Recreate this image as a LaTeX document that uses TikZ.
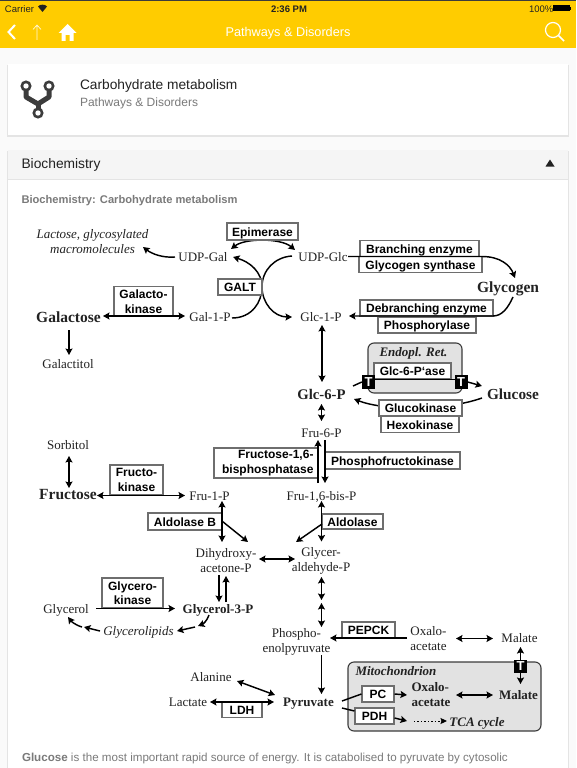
\documentclass[tikz,border=0pt]{standalone}
\usepackage{fontspec}
\setmainfont{Liberation Sans}
\newfontfamily\ser{Liberation Serif}
\usetikzlibrary{arrows.meta,calc}
\definecolor{barY}{HTML}{FFCC00}
\definecolor{pageBg}{HTML}{FAFAFA}
\definecolor{headBg}{HTML}{F5F5F5}
\definecolor{shadowC}{HTML}{E4E4E4}
\definecolor{ink}{HTML}{222222}
\definecolor{muted}{HTML}{7A7A7A}
\definecolor{boxEdge}{HTML}{6E6E6E}
\definecolor{compart}{HTML}{E2E2E2}
\definecolor{iconC}{HTML}{3C3C3C}
\tikzset{
  x=1pt,y=-1pt,
  base/.style={inner sep=0pt,outer sep=0pt,text=ink},
  lbl/.style={base,font=\ser\fontsize{13}{15}\selectfont,text height=11pt,text depth=2pt},
  lblm/.style={base,font=\ser\fontsize{13}{15}\selectfont,align=center},
  blbl/.style={lbl,font=\ser\bfseries\fontsize{13}{15}\selectfont},
  blblb/.style={lbl,font=\ser\bfseries\fontsize{15.5}{17}\selectfont},
  ilbl/.style={lbl,font=\ser\itshape\fontsize{13}{15}\selectfont},
  bilbl/.style={lbl,font=\ser\bfseries\itshape\fontsize{13}{15}\selectfont},
  enzm/.style={draw=boxEdge,line width=1.1pt,fill=white,inner sep=0pt,text=black,
    font=\bfseries\fontsize{12}{14.5}\selectfont,align=center},
  enz/.style={enzm,text height=11pt,text depth=2pt},
  tbox/.style={fill=black,text=white,inner sep=0pt,minimum width=13pt,minimum height=14pt,
    font=\bfseries\fontsize{13}{13}\selectfont},
  compartment/.style={draw=iconC,line width=1.1pt,fill=compart,rounded corners=6pt},
  conn/.style={draw=black,line width=1.45pt},
  arr/.style={conn,-{Stealth[length=6.5pt,width=7pt,inset=1.2pt]}},
  dbl/.style={conn,{Stealth[length=6.5pt,width=7pt,inset=1.2pt]}-{Stealth[length=6.5pt,width=7pt,inset=1.2pt]}},
  ui/.style={inner sep=0pt,outer sep=0pt,anchor=west},
  cardbox/.style={fill=white}
}
\begin{document}
\begin{tikzpicture}
\useasboundingbox (0,0) rectangle (576,768);
% page
\fill[pageBg] (0,0) rectangle (576,768);
\fill[barY] (0,0) rectangle (576,48);
\fill[iconC] (0,0) rectangle (576,1);
\fill[shadowC] (7,65) rectangle (569,136.5);
\fill[cardbox] (8,64) rectangle (568,135);
\fill[shadowC] (7,151) rectangle (569,768);
\fill[cardbox] (8,180) rectangle (568,768);
\fill[headBg] (8,150) rectangle (568,179);
% status bar
\node[ui,text=ink,font=\fontsize{9.5}{11}\selectfont] (carrier) at (5,9.5) {Carrier};
\fill[ink] (42.5,12) -- (38,6.5) .. controls (40,4) and (45,4) .. (47,6.5) -- cycle;
\node[base,font=\bfseries\fontsize{9.5}{11}\selectfont] (clock) at (289,9.5) {2:36 PM};
\node[ui,text=ink,font=\fontsize{9.5}{11}\selectfont] (pct) at (529,9.5) {100\%};
\fill[black] (553,5.5) rectangle (569.5,11.5);
\fill[black] (570,7) rectangle (571,10);
% nav bar
\draw[white,line width=2pt] (15,25) -- (8.5,32) -- (15,39);
\draw[white,line width=.7pt,opacity=.85] (37,40) -- (37,25) (33,29.5) -- (37,25) -- (41,29.5);
\fill[white] (67.5,24) -- (76.5,33) -- (73.5,33) -- (73.5,41) -- (69.5,41) -- (69.5,35) -- (65.5,35) -- (65.5,41) -- (61.5,41) -- (61.5,33) -- (58.5,33) -- cycle;
\node[base,text=white,font=\fontsize{12.7}{15}\selectfont] (title) at (288,33) {Pathways \& Disorders};
\draw[white,line width=1.2pt] (553,30) circle (7.5);
\draw[white,line width=1.6pt] (558.5,35.5) -- (564,41);
% card icon
\draw[iconC,line width=5pt,line join=round] (26,86) -- (26,97) -- (38,104) -- (49,97) -- (49,86);
\draw[iconC,line width=5pt] (38,104) -- (38,113);
\foreach \cx/\cy in {26/86,49/86,38/113}{
  \fill[iconC] (\cx,\cy) circle (5.6);
  \fill[white] (\cx,\cy) circle (2.7);
}
\node[ui,text=ink,font=\fontsize{13.75}{15}\selectfont] (cardtitle) at (80,86) {Carbohydrate metabolism};
\node[ui,text=muted,font=\fontsize{12}{14}\selectfont] (cardsub) at (80,103) {Pathways \& Disorders};
\node[ui,text=ink,font=\fontsize{13.8}{15}\selectfont] (bio) at (21.5,165) {Biochemistry};
\fill[ink] (550,159.5) -- (554.5,166.5) -- (545.5,166.5) -- cycle;
\node[ui,text=muted,font=\bfseries\fontsize{11.15}{13}\selectfont] (biotitle) at (21.5,201) {Biochemistry: Carbohydrate metabolism};
\node[ui,text=muted,font=\fontsize{11.6}{14}\selectfont] (para) at (22,758) {\textbf{Glucose} is the most important rapid source of energy. It is catabolised to pyruvate by cytosolic};

% compartments
\draw[compartment] (368,343) rectangle (462,393);
\draw[compartment] (348,662) rectangle (541,731);

% metabolites
\node[ilbl,align=center,text height=,text depth=] (lact) at (92.5,241.5) {Lactose, glycosylated\\macromolecules\hspace{7pt}};
\node[lbl] (ug) at (203,257) {UDP-Gal};
\node[lbl] (uc) at (323,257) {UDP-Glc};
\node[blblb] (gal) at (68.5,318) {Galactose};
\node[lbl] (g1p) at (210,317) {Gal-1-P};
\node[lbl] (gt) at (68,364) {Galactitol};
\node[lbl] (c1p) at (321,317) {Glc-1-P};
\node[blblb] (gly) at (508,288) {Glycogen};
\node[blblb,font=\ser\bfseries\fontsize{14.7}{17}\selectfont] (c6p) at (321.5,395) {Glc-6-P};
\node[blblb,font=\ser\bfseries\fontsize{15.3}{17}\selectfont] (glu) at (513,395) {Glucose};
\node[lbl] (f6p) at (321.5,433) {Fru-6-P};
\node[lbl] (sor) at (68,445) {Sorbitol};
\node[blblb] (fru) at (68,495) {Fructose};
\node[lbl] (f1p) at (209.5,496) {Fru-1-P};
\node[lbl] (fbp) at (321.5,496) {Fru-1,6-bis-P};
\node[lblm] (dhap) at (226,560.5) {Dihydroxy-\\acetone-P};
\node[lblm] (gap) at (321,561) {Glycer-\\aldehyde-P};
\node[lbl] (glc) at (66,609) {Glycerol};
\node[blbl] (g3p) at (218,609) {Glycerol-3-P};
\node[ilbl] (lip) at (138.5,631) {Glycerolipids};
\node[lblm] (pep) at (296.5,641.5) {Phospho-\\enolpyruvate};
\node[lblm,align=left] (oaa) at (428.5,638.5) {Oxalo-\\acetate};
\node[lbl] (mal) at (519.5,638) {Malate};
\node[lbl] (ala) at (211,677) {Alanine};
\node[lbl] (lac) at (188,702) {Lactate};
\node[blbl] (pyr) at (308.5,702) {Pyruvate};
\node[lblm,align=left,font=\ser\bfseries\fontsize{13}{15}\selectfont] (moaa) at (431,695) {Oxalo-\\acetate};
\node[blbl] (mmal) at (518.5,695) {Malate};
\node[bilbl] (mito) at (396,671) {Mitochondrion};
\node[bilbl] (tca) at (477,722) {TCA cycle};
\node[bilbl] (er) at (413.5,352) {Endopl. Ret.};

% connectors running behind the enzyme boxes
\draw[dbl] ([shift={(28,-8)}]ug.center) .. controls (245,238) and (281,238) .. ([shift={(-28,-7)}]uc.center);
\draw[arr] ([shift={(22,1)}]g1p.center) .. controls (252,318) and (262,302) .. (262,287) .. controls (262,272) and (250,262) .. ([shift={(30,0)}]ug.center);
\draw[arr] ([shift={(-31,-1)}]uc.center) .. controls (275,257) and (262,270) .. (262,287) .. controls (262,303) and (274,317) .. ([shift={(-29,0)}]c1p.center);
\draw[arr] ([shift={(-31,3)}]glu.center) .. controls (445,411) and (385,411) .. ([shift={(32.5,4)}]c6p.center);

% enzymes
\node[enz,minimum width=71pt,minimum height=17pt] (epi) at (262.5,231.5) {Epimerase};
\node[enz,minimum width=44pt,minimum height=16pt] (galt) at (240,287) {GALT};
\node[enzm,minimum width=59pt,minimum height=30pt] (gk) at (143.5,301.5) {Galacto-\\kinase};
\node[enz,minimum width=119pt,minimum height=15.5pt] (be) at (419.5,248.5) {Branching enzyme};
\node[enz,minimum width=123pt,minimum height=15.5pt] (gs) at (420.5,264.5) {Glycogen synthase};
\node[enz,minimum width=133pt,minimum height=16pt] (dbe) at (426.5,308) {Debranching enzyme};
\node[enz,minimum width=98pt,minimum height=16pt] (phos) at (427,325) {Phosphorylase};
\node[enz,minimum width=77pt,minimum height=16pt] (g6pase) at (412.5,371) {Glc-6-P‘ase};
\node[enz,minimum width=83pt,minimum height=16pt] (gck) at (420.5,408) {Glucokinase};
\node[enz,minimum width=78pt,minimum height=15.5pt] (hk) at (420,424.5) {Hexokinase};
\node[enzm,text width=95pt,align=right,inner xsep=4.5pt,minimum height=30pt] (fbpase) at (266,463) {Fructose-1,6-\\bisphosphatase};
\node[enz,minimum width=135pt,minimum height=17pt] (pfk) at (392.5,460.5) {Phosphofructokinase};
\node[enzm,minimum width=53pt,minimum height=30pt] (frk) at (136.5,480) {Fructo-\\kinase};
\node[enz,minimum width=74pt,minimum height=17pt] (aldb) at (185,521.5) {Aldolase B};
\node[enz,minimum width=61pt,minimum height=15pt] (ald) at (352.5,521.5) {Aldolase};
\node[enzm,minimum width=61pt,minimum height=30pt] (gyk) at (132.5,593) {Glycero-\\kinase};
\node[enz,minimum width=53pt,minimum height=16pt] (pepck) at (368.5,630) {PEPCK};
\node[enz,minimum width=32pt,minimum height=16pt] (pc) at (378,694) {PC};
\node[enz,minimum width=39pt,minimum height=16pt] (pdh) at (374.5,716) {PDH};
\node[enz,minimum width=40pt,minimum height=15pt] (ldh) at (242,710) {LDH};

% transporters
\node[tbox] (t1) at (368.5,382) {T};
\node[tbox] (t2) at (461,382) {T};
\node[tbox,minimum height=13pt] (t3) at (520.5,666.5) {T};

% connectors on top
\draw[arr] ([shift={(-28,0)}]ug.center) .. controls (163,258) and (152,254) .. ([shift={(50.5,5.5)}]lact.center);
\draw[dbl] ([shift={(34.5,-2)}]gal.center) -- ([shift={(-25,-1)}]g1p.center);
\draw[arr] ([shift={(0.5,12)}]gal.center) -- ([shift={(1,-9)}]gt.center);
\draw[arr] ([shift={(25,-0.5)}]uc.center) -- (482,256.5) .. controls (500,256.5) and (510,265) .. ([shift={(7,-10)}]gly.center);
\draw[arr] ([shift={(5,9)}]gly.center) .. controls (508,308) and (502,316) .. (493,316) -- ([shift={(28,-1)}]c1p.center);
\draw[dbl] ([shift={(1,8)}]c1p.center) -- ([shift={(0.5,-13)}]c6p.center);
\draw[conn] ([shift={(31.5,-9)}]c6p.center) -- (t1.west);
\draw[conn] ([shift={(6.5,-2.5)}]t1.center) -- ([shift={(-6.5,-2.5)}]t2.center);
\draw[arr] (t2.east) -- ([shift={(-31,-9)}]glu.center);
\draw[dbl] ([shift={(0,9)}]c6p.center) -- ([shift={(0,-12)}]f6p.center);
\draw[arr] ([shift={(-3.5,50)}]f6p.center) -- ([shift={(-3.5,7)}]f6p.center);
\draw[arr] ([shift={(3.5,7)}]f6p.center) -- ([shift={(3.5,50)}]f6p.center);
\draw[dbl] ([shift={(1,11)}]sor.center) -- ([shift={(1,-7)}]fru.center);
\draw[dbl] ([shift={(29,0.5)}]fru.center) -- ([shift={(-24.5,-0.5)}]f1p.center);
\draw[dbl] ([shift={(12.5,5)}]f1p.center) -- ([shift={(-4,-18.5)}]dhap.center);
\draw[arr] (aldb.east) -- ([shift={(22,-18.5)}]dhap.center);
\draw[dbl] ([shift={(0,5)}]fbp.center) -- ([shift={(0.5,-19.5)}]gap.center);
\draw[arr] ([shift={(0.5,28)}]fbp.center) -- ([shift={(-25,-19)}]gap.center);
\draw[dbl] ([shift={(33,-1.5)}]dhap.center) -- ([shift={(-26,-2)}]gap.center);
\draw[arr] ([shift={(-7,14.5)}]dhap.center) -- ([shift={(1,-7)}]g3p.center);
\draw[arr] ([shift={(8,-7)}]g3p.center) -- ([shift={(0,15.5)}]dhap.center);
\draw[arr] ([shift={(30,-0.5)}]glc.center) -- ([shift={(-43,-0.5)}]g3p.center);
\draw[arr] ([shift={(-9,6)}]g3p.center) .. controls (207,621) and (203,624) .. ([shift={(-20,17)}]g3p.center);
\draw[arr] ([shift={(-23,18)}]g3p.center) -- ([shift={(38.5,0)}]lip.center);
\draw[arr] ([shift={(-38.5,0)}]lip.center) -- ([shift={(18,18)}]glc.center);
\draw[arr] ([shift={(16,18)}]glc.center) .. controls (75,625) and (71,621) .. ([shift={(2,8)}]glc.center);
\draw[dbl] ([shift={(0.5,16)}]gap.center) -- ([shift={(25,-41.5)}]pep.center);
\draw[dbl] ([shift={(25,-38.5)}]pep.center) -- ([shift={(25,-14.5)}]pep.center);
\draw[arr] ([shift={(-21.5,-0.5)}]oaa.center) -- ([shift={(33.5,-3.5)}]pep.center);
\draw[dbl] ([shift={(27.5,0)}]oaa.center) -- ([shift={(-26.5,0.5)}]mal.center);
\draw[arr] (t3.north) -- ([shift={(1,9)}]mal.center);
\draw[arr] (t3.south) -- ([shift={(2,-11)}]mmal.center);
\draw[arr] ([shift={(25,13.5)}]pep.center) -- ([shift={(13,-8)}]pyr.center);
\draw[dbl] ([shift={(26,4)}]ala.center) -- ([shift={(-33.5,-7)}]pyr.center);
\draw[dbl] ([shift={(22,0)}]lac.center) -- ([shift={(-34.5,0)}]pyr.center);
\draw[conn] ([shift={(33.5,-1)}]pyr.center) -- (pc.west);
\draw[arr] (pc.east) -- ([shift={(-24,0)}]moaa.center);
\draw[conn] ([shift={(33.5,6)}]pyr.center) -- ([shift={(0,-5)}]pdh.west);
\draw[arr] ([shift={(0,2)}]pdh.east) -- ([shift={(32.5,5)}]pdh.center);
\draw[dbl] ([shift={(25,0)}]moaa.center) -- ([shift={(-25.5,0)}]mmal.center);
\draw[conn,dotted,-{Stealth[length=6.5pt,width=6pt,inset=1pt]},line width=1pt] ([shift={(39.5,5)}]pdh.center) -- ([shift={(-30,-1)}]tca.center);
\end{tikzpicture}
\end{document}
